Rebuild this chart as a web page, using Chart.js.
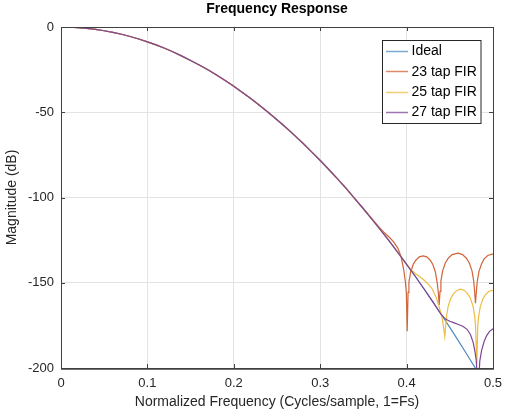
<!DOCTYPE html>
<html>
<head>
<meta charset="utf-8">
<title>Frequency Response</title>
<script src="https://cdn.jsdelivr.net/npm/chart.js@4.4.0/dist/chart.umd.min.js"></script>
<style>
  html, body { margin: 0; padding: 0; background: #fff; }
  #wrap { width: 517px; height: 412px; position: relative; }
</style>
</head>
<body>
<div id="wrap"><canvas id="freqChart"></canvas></div>
<script>
// values
const seriesLabels = ['Ideal', '23 tap FIR', '25 tap FIR', '27 tap FIR'];
const seriesColors = ['#4f8cc0', '#d0653a', '#ecbd45', '#7f4596'];
const xTicks = [0, 0.1, 0.2, 0.3, 0.4, 0.5];
const yTicks = [0, -50, -100, -150, -200];

const freqIdeal = [0, 0.01, 0.02, 0.03, 0.04, 0.05, 0.06, 0.07, 0.08, 0.09,
  0.10, 0.11, 0.12, 0.13, 0.14, 0.15, 0.16, 0.17, 0.18, 0.19,
  0.20, 0.21, 0.22, 0.23, 0.24, 0.25, 0.26, 0.27, 0.28, 0.29,
  0.30, 0.31, 0.32, 0.33, 0.34, 0.35, 0.36, 0.37, 0.38, 0.39,
  0.40, 0.41, 0.42, 0.43, 0.44, 0.45, 0.46, 0.47, 0.48, 0.49, 0.50];
const magIdeal = [0, -0.09, -0.35, -0.78, -1.39, -2.18, -3.13, -4.26, -5.57, -7.05,
  -8.7, -10.5, -12.5, -14.7, -17.1, -19.6, -22.3, -25.1, -28.2, -31.4,
  -34.8, -38.4, -42.1, -46.0, -50.1, -54.4, -58.8, -63.4, -68.2, -73.2,
  -78.3, -83.6, -89.1, -94.7, -100.6, -106.6, -112.8, -119.1, -125.6, -132.3,
  -139.2, -146.2, -153.5, -160.9, -168.4, -176.2, -184.1, -192.2, -200.4, -208.9, -217.5];

// FIR curves match the ideal one until these tails start
const freq23 = [0.36, 0.37, 0.375, 0.38, 0.385, 0.39, 0.3935, 0.3967, 0.3987, 0.3997,
  0.4007, 0.4017, 0.4027, 0.4047, 0.4077, 0.4107, 0.4147, 0.419, 0.4233, 0.4273,
  0.4303, 0.4333, 0.4353, 0.4367, 0.4377, 0.4387, 0.4397, 0.4417, 0.4447, 0.4482,
  0.4527, 0.4596, 0.4647, 0.4692, 0.4727, 0.4757, 0.4777, 0.4787, 0.4797, 0.4807,
  0.4817, 0.4837, 0.4867, 0.4897, 0.494, 0.5];
const mag23 = [-112.6, -118.4, -121.0, -123.3, -126.0, -129.8, -134.5, -142.5, -150, -156,
  -178.5, -155.6, -149.6, -143.7, -139.2, -136.8, -134.8, -134.2, -134.8, -136.8,
  -139.2, -143.7, -149.6, -155.6, -163, -155, -149, -143, -138.6, -135.6,
  -133.5, -132.6, -133.5, -135.6, -138.6, -143, -149, -155, -162, -155.5,
  -149.5, -143.5, -139, -136, -134, -133];

const freq25 = [0.40, 0.405, 0.41, 0.415, 0.42, 0.425, 0.4295, 0.4346, 0.4392, 0.4414,
  0.4428, 0.4442, 0.4452, 0.4462, 0.4482, 0.4512, 0.4542, 0.4582, 0.4625, 0.4668,
  0.4708, 0.4738, 0.4768, 0.4788, 0.4798, 0.4813, 0.4823, 0.4833, 0.4853, 0.4883,
  0.4913, 0.4953, 0.5];
const mag25 = [-139.2, -142.2, -144.6, -146.3, -148.4, -150.8, -153.5, -159, -166.8, -171.5,
  -176, -181.5, -175.5, -169.5, -163.6, -159.1, -156.5, -154.5, -153.8, -154.5,
  -156.5, -159.1, -163.6, -169.5, -175.5, -198, -176, -170, -164, -159.5,
  -157, -155, -154.5];

const freq27 = [0.43, 0.435, 0.44, 0.445, 0.45, 0.455, 0.46, 0.465, 0.47, 0.474,
  0.477, 0.479, 0.4807, 0.4827, 0.4847, 0.4867, 0.4897, 0.4927, 0.496, 0.5];
const mag27 = [-160.9, -164.8, -168.6, -171.3, -172.6, -173.5, -174.5, -175.5, -177.3, -180.5,
  -185, -190, -196, -215, -196, -190, -184.5, -181, -178.5, -177];

const fontFamily = '"Liberation Sans", Arial, Helvetica, sans-serif';
const textColor = '#262626';

function toPoints(xs, ys) {
  return xs.map((x, i) => ({ x: x, y: ys[i] }));
}

function withIdealHead(xs, ys) {
  const head = toPoints(freqIdeal, magIdeal).filter(p => p.x < xs[0]);
  return head.concat(toPoints(xs, ys));
}

const seriesData = [
  toPoints(freqIdeal, magIdeal),
  withIdealHead(freq23, mag23),
  withIdealHead(freq25, mag25),
  withIdealHead(freq27, mag27)
];

// title, axes box, inward ticks and the boxed legend
const framePlugin = {
  id: 'frame',
  afterDraw(chart) {
    const { ctx, chartArea: a, scales } = chart;
    ctx.save();

    ctx.fillStyle = '#000';
    ctx.font = 'bold 14px ' + fontFamily;
    ctx.textAlign = 'center';
    ctx.textBaseline = 'middle';
    ctx.fillText('Frequency Response', (a.left + a.right) / 2, 9);

    ctx.strokeStyle = '#404040';
    ctx.lineWidth = 1;
    ctx.beginPath();
    xTicks.forEach(v => {
      const px = Math.round(scales.x.getPixelForValue(v)) + 0.5;
      ctx.moveTo(px, a.bottom); ctx.lineTo(px, a.bottom - 4);
      ctx.moveTo(px, a.top); ctx.lineTo(px, a.top + 4);
    });
    yTicks.forEach(v => {
      const py = Math.round(scales.y.getPixelForValue(v)) + 0.5;
      ctx.moveTo(a.left, py); ctx.lineTo(a.left + 4, py);
      ctx.moveTo(a.right, py); ctx.lineTo(a.right - 4, py);
    });
    ctx.stroke();
    ctx.strokeRect(Math.round(a.left) + 0.5, Math.round(a.top) + 0.5,
      Math.round(a.right - a.left), Math.round(a.bottom - a.top));
    // bottom axis reads a bit heavier in the reference
    ctx.strokeStyle = '#707070';
    ctx.beginPath();
    ctx.moveTo(a.left, Math.round(a.bottom) + 1.5);
    ctx.lineTo(a.right + 1, Math.round(a.bottom) + 1.5);
    ctx.stroke();

    // legend
    const lx = 382.5, ly = 40.5, lw = 98.5, lh = 83;
    ctx.fillStyle = '#fff';
    ctx.fillRect(lx, ly, lw, lh);
    ctx.strokeStyle = '#262626';
    ctx.strokeRect(lx, ly, lw, lh);
    ctx.font = '14px ' + fontFamily;
    ctx.textAlign = 'left';
    ctx.textBaseline = 'middle';
    ctx.lineWidth = 1.5;
    seriesLabels.forEach((label, i) => {
      const rowY = 51 + i * 20.3;
      ctx.strokeStyle = seriesColors[i];
      ctx.globalAlpha = 0.75;
      ctx.beginPath();
      ctx.moveTo(386, Math.round(rowY) + 0.5);
      ctx.lineTo(408, Math.round(rowY) + 0.5);
      ctx.stroke();
      ctx.globalAlpha = 1;
      ctx.fillStyle = '#000';
      ctx.fillText(label, 411.5, rowY + 0.5);
    });
    ctx.restore();
  }
};

const ctx = document.getElementById('freqChart').getContext('2d');
new Chart(ctx, {
  type: 'line',
  data: {
    datasets: seriesLabels.map((label, i) => ({
      label: label,
      data: seriesData[i],
      borderColor: seriesColors[i],
      backgroundColor: seriesColors[i],
      borderWidth: 1.2,
      pointRadius: 0,
      tension: 0,
      fill: false,
      clip: 0,
      order: seriesLabels.length - 1 - i
    }))
  },
  options: {
    responsive: true,
    maintainAspectRatio: false,
    animation: false,
    events: [],
    layout: { padding: { top: 27, right: 24, left: 0, bottom: 0 } },
    plugins: {
      legend: { display: false },
      title: { display: false },
      tooltip: { enabled: false }
    },
    scales: {
      x: {
        type: 'linear',
        min: 0,
        max: 0.5,
        afterFit: s => { s.height = 44; },
        afterBuildTicks: s => { s.ticks = xTicks.map(v => ({ value: v })); },
        border: { display: false },
        grid: { color: '#e3e3e3', drawTicks: false },
        ticks: {
          padding: 8,
          color: textColor,
          font: { family: fontFamily, size: 13 },
          maxRotation: 0,
          callback: v => String(Number(v.toFixed(2)))
        },
        title: {
          display: true,
          text: 'Normalized Frequency (Cycles/sample, 1=Fs)',
          color: textColor,
          font: { family: fontFamily, size: 14 },
          padding: { top: 0, bottom: 1 }
        }
      },
      y: {
        type: 'linear',
        min: -200,
        max: 0,
        afterFit: s => { s.width = 61; },
        afterBuildTicks: s => { s.ticks = yTicks.map(v => ({ value: v })); },
        border: { display: false },
        grid: { color: '#e3e3e3', drawTicks: false },
        ticks: {
          padding: 7,
          color: textColor,
          font: { family: fontFamily, size: 13 }
        },
        title: {
          display: true,
          text: 'Magnitude (dB)',
          color: textColor,
          font: { family: fontFamily, size: 14 },
          padding: { top: 4, bottom: 0 }
        }
      }
    }
  },
  plugins: [framePlugin]
});
</script>
</body>
</html>
